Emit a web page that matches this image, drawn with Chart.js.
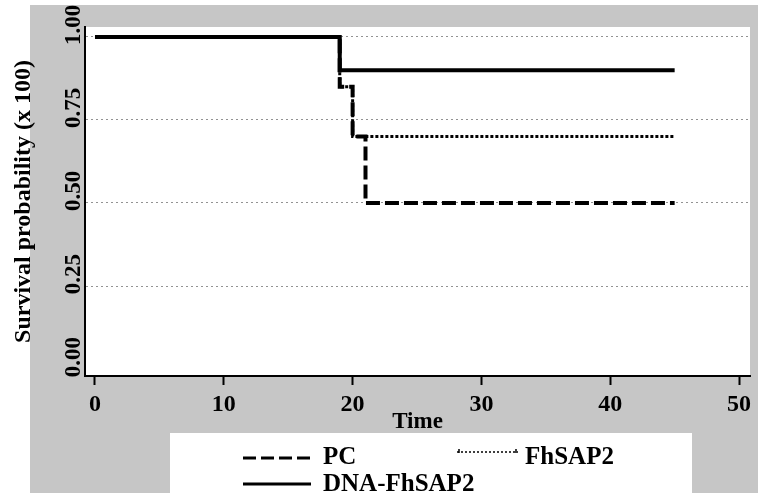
<!DOCTYPE html>
<html>
<head>
<meta charset="utf-8">
<script src="https://cdn.jsdelivr.net/npm/chart.js@4.4.1/dist/chart.umd.min.js"></script>
<style>
  html, body { margin: 0; padding: 0; background: #fff; }
  #wrap { width: 758px; height: 493px; position: relative; }
</style>
</head>
<body>
<div id="wrap"><canvas id="km"></canvas></div>
<script>
// Kaplan-Meier steps
var pcTimes = [0, 19, 20, 21, 45];
var pcSurv = [1.00, 0.85, 0.70, 0.50, 0.50];
var fhTimes = [0, 19, 20, 45];
var fhSurv = [1.00, 0.85, 0.70, 0.70];
var dnaTimes = [0, 19, 45];
var dnaSurv = [1.00, 0.90, 0.90];

var xTicks = [0, 10, 20, 30, 40, 50];
var xTickLabels = ['0', '10', '20', '30', '40', '50'];
var yTicks = [0, 0.25, 0.5, 0.75, 1];
var yTickLabels = ['0.00', '0.25', '0.50', '0.75', '1.00'];

var serif = '"Liberation Serif", "DejaVu Serif", serif';

function toPoints(times, surv) {
  return times.map(function (t, i) { return { x: t, y: surv[i] }; });
}

function dsByLabel(chart, label) {
  return chart.data.datasets.filter(function (d) { return d.label === label; })[0];
}

function sample(ctx, ds, x0, x1, y) {
  ctx.save();
  ctx.strokeStyle = ds.borderColor;
  ctx.lineWidth = ds.legendWidth || ds.borderWidth;
  ctx.setLineDash(ds.legendDash || ds.borderDash || []);
  ctx.beginPath();
  ctx.moveTo(x0, y);
  ctx.lineTo(x1, y);
  ctx.stroke();
  ctx.restore();
}

var paper = {
  id: 'paper',
  beforeDraw: function (chart) {
    var ctx = chart.ctx, a = chart.chartArea;
    ctx.save();
    ctx.fillStyle = '#fff';
    ctx.fillRect(0, 0, chart.width, chart.height);
    ctx.fillStyle = '#c6c6c6';
    ctx.fillRect(30, 5, chart.width - 30, chart.height - 5);
    ctx.fillStyle = '#fff';
    ctx.fillRect(a.left, a.top, a.right - a.left, a.bottom - a.top);
    ctx.restore();
  },
  afterDraw: function (chart) {
    var ctx = chart.ctx, ys = chart.scales.y;

    // rotated y tick labels, sitting just above each tick
    ctx.save();
    ctx.font = 'bold 23px ' + serif;
    ctx.fillStyle = '#000';
    ctx.textAlign = 'center';
    ctx.textBaseline = 'alphabetic';
    yTicks.forEach(function (v, i) {
      ctx.save();
      ctx.translate(80, ys.getPixelForValue(v) - 12);
      ctx.rotate(-Math.PI / 2);
      ctx.fillText(yTickLabels[i], 0, 0);
      ctx.restore();
    });
    ctx.restore();

    // legend box
    ctx.save();
    ctx.fillStyle = '#fff';
    ctx.fillRect(170, 433, 522, 60);
    ctx.font = 'bold 25px ' + serif;
    ctx.fillStyle = '#000';
    ctx.textAlign = 'left';
    ctx.textBaseline = 'middle';

    sample(ctx, dsByLabel(chart, 'PC'), 243, 311, 458);
    ctx.fillText('PC', 323, 458);

    var fh = dsByLabel(chart, 'FhSAP2');
    sample(ctx, fh, 457, 518, 452);
    ctx.lineWidth = 1.5;
    ctx.beginPath();
    ctx.moveTo(459, 449); ctx.lineTo(459, 453);
    ctx.moveTo(516, 449); ctx.lineTo(516, 453);
    ctx.stroke();
    ctx.fillText('FhSAP2', 525, 458);

    sample(ctx, dsByLabel(chart, 'DNA-FhSAP2'), 243, 311, 484);
    ctx.fillText('DNA-FhSAP2', 323, 485);
    ctx.restore();
  }
};

new Chart('km', {
  type: 'line',
  data: {
    datasets: [
      {
        label: 'DNA-FhSAP2',
        data: toPoints(dnaTimes, dnaSurv),
        borderColor: '#000',
        borderWidth: 4,
        legendWidth: 3,
        stepped: 'before',
        pointRadius: 0,
        fill: false
      },
      {
        label: 'PC',
        data: toPoints(pcTimes, pcSurv),
        borderColor: '#000',
        borderWidth: 4,
        borderDash: [14, 5],
        legendWidth: 3,
        legendDash: [13, 5],
        stepped: 'before',
        pointRadius: 0,
        fill: false
      },
      {
        label: 'FhSAP2',
        data: toPoints(fhTimes, fhSurv),
        borderColor: '#000',
        borderWidth: 3,
        borderDash: [3, 2],
        legendWidth: 1.5,
        legendDash: [2, 2],
        stepped: 'before',
        pointRadius: 0,
        fill: false
      }
    ]
  },
  options: {
    responsive: true,
    maintainAspectRatio: false,
    animation: false,
    layout: { padding: { top: 27, right: 8, left: 0, bottom: 0 } },
    plugins: {
      legend: { display: false },
      tooltip: { enabled: false }
    },
    scales: {
      x: {
        type: 'linear',
        min: -0.776,
        max: 50.85,
        afterBuildTicks: function (s) {
          s.ticks = xTicks.map(function (v) { return { value: v }; });
        },
        afterFit: function (s) { s.height = 117; },
        grid: {
          drawOnChartArea: false,
          drawTicks: true,
          tickLength: 9,
          tickColor: '#000',
          tickWidth: 2
        },
        border: { display: true, color: '#000', width: 2 },
        ticks: {
          color: '#000',
          padding: 5,
          maxRotation: 0,
          font: { family: serif, size: 24, weight: 'bold' },
          callback: function (v) { return xTickLabels[xTicks.indexOf(v)]; }
        },
        title: {
          display: true,
          text: 'Time',
          color: '#000',
          font: { family: serif, size: 23, weight: 'bold' },
          padding: { top: 0, bottom: 57 }
        }
      },
      y: {
        type: 'linear',
        min: -0.021,
        max: 1.03,
        afterBuildTicks: function (s) {
          s.ticks = yTicks.map(function (v) { return { value: v }; });
        },
        afterFit: function (s) { s.width = 85; },
        grid: {
          drawTicks: false,
          lineWidth: 1,
          color: function (c) {
            return c.tick && c.tick.value > 0 ? 'rgba(110,110,110,0.75)' : 'rgba(0,0,0,0)';
          }
        },
        border: { display: true, color: '#000', width: 2, dash: [2, 3] },
        ticks: { display: false },
        title: {
          display: true,
          text: 'Survival probability (x 100)',
          color: '#000',
          font: { family: serif, size: 24, weight: 'bold' },
          padding: { top: 9, bottom: 0 }
        }
      }
    }
  },
  plugins: [paper]
});
</script>
</body>
</html>
